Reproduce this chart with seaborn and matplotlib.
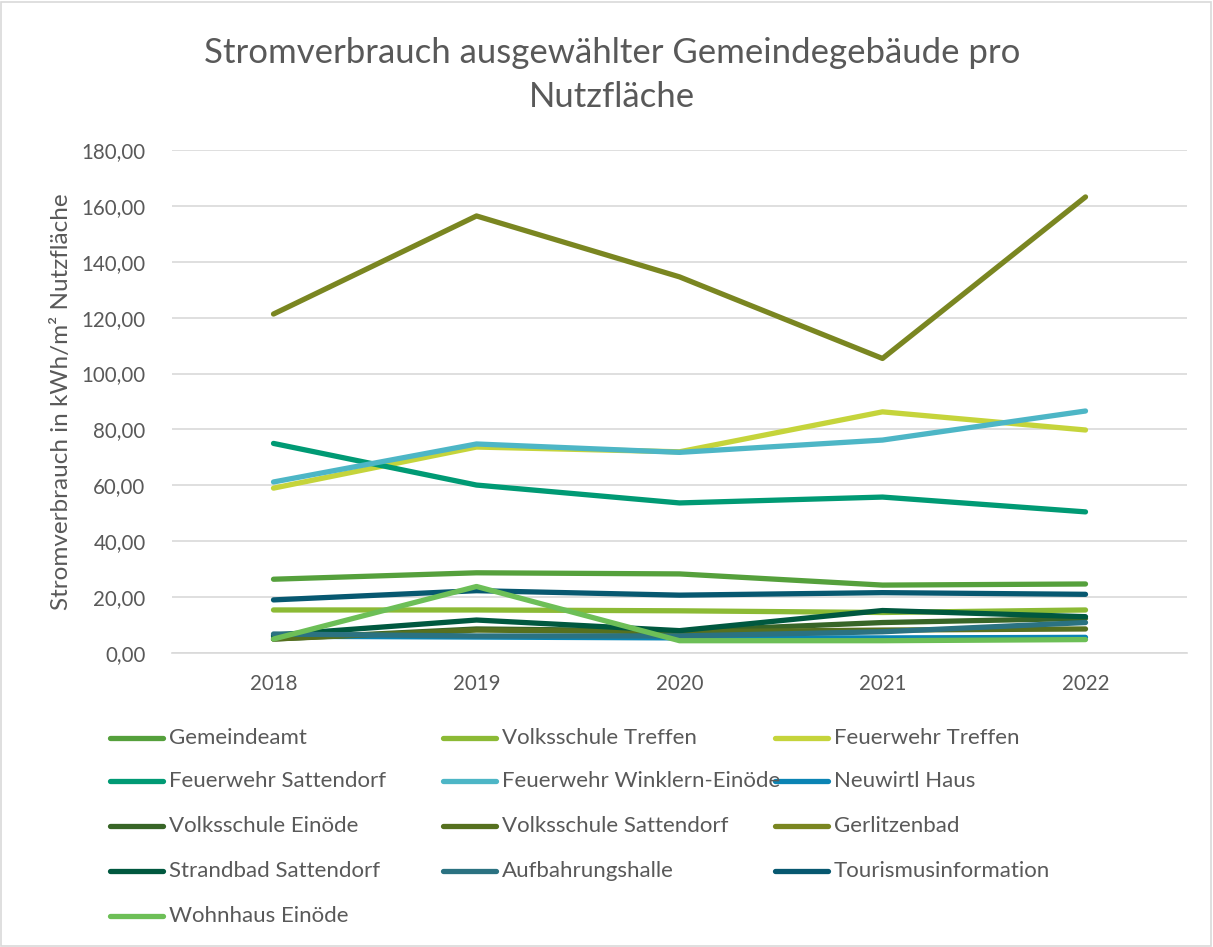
import matplotlib
matplotlib.use("Agg")
import matplotlib.pyplot as plt
from matplotlib.lines import Line2D
from matplotlib.patches import Rectangle
from matplotlib.ticker import FuncFormatter, MultipleLocator
import seaborn as sns
import pandas as pd

years = [2018, 2019, 2020, 2021, 2022]
series_names = [
    "Gemeindeamt", "Volksschule Treffen", "Feuerwehr Treffen",
    "Feuerwehr Sattendorf", "Feuerwehr Winklern-Einöde", "Neuwirtl Haus",
    "Volksschule Einöde", "Volksschule Sattendorf", "Gerlitzenbad",
    "Strandbad Sattendorf", "Aufbahrungshalle", "Tourismusinformation",
    "Wohnhaus Einöde",
]
gemeindeamt = [26.4, 28.7, 28.3, 24.3, 24.7]
volksschule_treffen = [15.4, 15.4, 15.1, 14.5, 15.4]
feuerwehr_treffen = [59.0, 73.7, 72.0, 86.3, 79.8]
feuerwehr_sattendorf = [75.0, 60.1, 53.7, 55.8, 50.5]
feuerwehr_winklern = [61.2, 74.8, 71.8, 76.2, 86.6]
neuwirtl_haus = [6.0, 5.7, 5.4, 5.4, 5.6]
volksschule_einoede = [5.0, 8.6, 7.9, 10.9, 12.4]
volksschule_sattendorf = [5.0, 8.2, 7.6, 8.2, 8.6]
gerlitzenbad = [121.3, 156.4, 134.6, 105.4, 163.2]
strandbad_sattendorf = [6.4, 11.8, 8.0, 15.2, 13.0]
aufbahrungshalle = [6.8, 6.1, 6.1, 7.6, 10.9]
tourismusinformation = [19.0, 22.3, 20.7, 21.6, 21.0]
wohnhaus_einoede = [5.0, 23.8, 4.4, 4.4, 4.8]

values = [gemeindeamt, volksschule_treffen, feuerwehr_treffen,
          feuerwehr_sattendorf, feuerwehr_winklern, neuwirtl_haus,
          volksschule_einoede, volksschule_sattendorf, gerlitzenbad,
          strandbad_sattendorf, aufbahrungshalle, tourismusinformation,
          wohnhaus_einoede]
colors = ["#55a03c", "#8cba35", "#c5d43b", "#009a74", "#4db6c6", "#0b84b4",
          "#386527", "#56701f", "#7a8621", "#00583f", "#2b7281", "#075870",
          "#6dbf57"]

rows = []
for name, vals in zip(series_names, values):
    for y, v in zip(years, vals):
        rows.append({"Jahr": y, "Wert": v, "Gebäude": name})
df = pd.DataFrame(rows)

sns.set_theme(style="white")
plt.rcParams["font.family"] = ["Lato", "DejaVu Sans"]
text_color = "#595959"

fig = plt.figure(figsize=(12.13, 9.47), dpi=100)
ax = fig.add_axes([172/1213, 1-653/947, (1187-172)/1213, (653-150)/947])

sns.lineplot(data=df, x="Jahr", y="Wert", hue="Gebäude", hue_order=series_names,
             palette=dict(zip(series_names, colors)), linewidth=3.8,
             legend=False, ax=ax, solid_capstyle="round", solid_joinstyle="round")

ax.set_xlim(2017.5, 2022.5)
ax.set_ylim(0, 180)
ax.yaxis.set_major_locator(MultipleLocator(20))
ax.yaxis.set_major_formatter(FuncFormatter(lambda v, p: f"{v:.2f}".replace(".", ",")))
ax.set_xticks(years)
ax.set_xticklabels([str(y) for y in years])
ax.grid(axis="y", color="#d9d9d9", linewidth=1.2)
ax.set_axisbelow(True)
for s in ["top", "right", "left"]:
    ax.spines[s].set_visible(False)
ax.spines["bottom"].set_color("#d9d9d9")
ax.spines["bottom"].set_linewidth(1.2)
ax.tick_params(axis="both", colors=text_color, labelsize=14.8, length=0)
ax.tick_params(axis="y", pad=19)
ax.tick_params(axis="x", pad=15)
ax.set_xlabel("")
ax.set_ylabel("Stromverbrauch in kWh/m² Nutzfläche", color=text_color, fontsize=17.5)
ax.yaxis.set_label_coords(-(172-72)/1015, 0.5)

fig.text(612/1213, 1-75/947, "Stromverbrauch ausgewählter Gemeindegebäude pro\nNutzfläche",
         ha="center", va="center", fontsize=25, color=text_color, linespacing=1.45)

# legend (row-wise, 3 columns)
col_x = [110, 443, 775]
row_y = [738, 781, 826, 871, 916]
for i, (name, c) in enumerate(zip(series_names, colors)):
    r, cidx = divmod(i, 3)
    x0 = col_x[cidx]
    y0 = row_y[r]
    fig.add_artist(Line2D([x0/1213, (x0+53)/1213], [1-y0/947, 1-y0/947],
                          color=c, linewidth=3.8, solid_capstyle="round"))
    fig.text((x0+59)/1213, 1-y0/947, name, ha="left", va="center",
             fontsize=16, color=text_color)

fig.add_artist(Rectangle((0.001, 0.001), 0.997, 0.997, transform=fig.transFigure,
                         fill=False, edgecolor="#d9d9d9", linewidth=1.2))

fig.savefig("out.png", dpi=100)
